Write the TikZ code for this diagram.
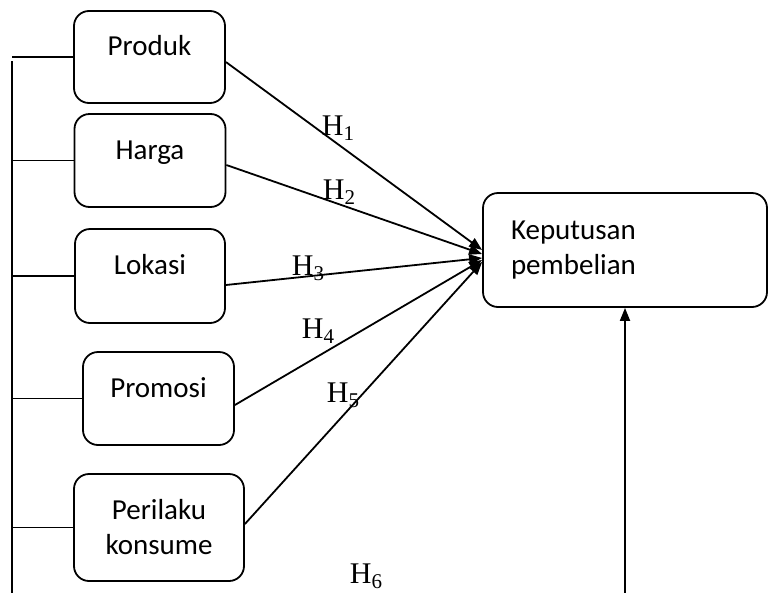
\documentclass[tikz,border=0pt]{standalone}
\usepackage{fontspec}
\setmainfont{Carlito}
\newfontfamily\hfont{Liberation Serif}
\usetikzlibrary{calc,arrows.meta}

\begin{document}
\begin{tikzpicture}[x=1pt,y=-1pt,line width=1.8pt,
  kotak/.style={draw,rounded corners=15pt,inner sep=0pt,
    font=\fontsize{29}{35}\selectfont,align=center},
  satu/.style={kotak,text height=20pt,text depth=23pt},
  hipo/.style={anchor=base west,inner sep=0pt,font=\hfont\fontsize{30}{30}\selectfont},
  panah/.style={-{Triangle[length=13pt,width=10pt]}}]
\useasboundingbox (0,0) rectangle (768,592);

\node [satu,minimum width=151pt,minimum height=92pt] (produk) at (149.5,57) {Produk};
\node [satu,minimum width=151pt,minimum height=93pt] (harga) at (150,160.5) {Harga};
\node [satu,minimum width=150pt,minimum height=94pt] (lokasi) at (150,276) {Lokasi};
\node [satu,minimum width=151pt,minimum height=93pt] (promosi) at (158.5,398.5) {Promosi};
\node [kotak,minimum width=170pt,minimum height=107pt] (perilaku) at (159,527.5) {Perilaku\\konsume};
\node [kotak,minimum width=284pt,minimum height=114pt,text width=228pt,align=left]
  (keputusan) at (625,250) {Keputusan\\pembelian};

% garis kiri menuju kotak-kotak variabel
\coordinate (atas) at (12,61);
\coordinate (sudut) at (12,594);
\coordinate (bawah) at (625,594);
\draw [panah] (atas) -- (sudut) -- (bawah) -- (keputusan.south);
\foreach \v in {produk,harga,lokasi,promosi,perilaku}
  \draw (\v.west) -- (\v.west -| atas);

% panah hipotesis
\draw [panah] ($(produk.east)+(0,5)$) -- (keputusan.west);
\draw [panah] ($(harga.east)+(0,4.5)$) -- ($(keputusan.west)+(0,4)$);
\draw [panah] ($(lokasi.east)+(0,9)$) -- ($(keputusan.west)+(0,8)$);
\draw [panah] ($(promosi.east)+(0,6.5)$) -- ($(keputusan.west)+(0,10)$);
\draw [panah] ($(perilaku.east)+(0,-3.5)$) -- ($(keputusan.west)+(0,12)$);

\node [hipo] (h1) at (321,135) {H\textsubscript{1}};
\node [hipo] (h2) at (322,199) {H\textsubscript{2}};
\node [hipo] (h3) at (291,275) {H\textsubscript{3}};
\node [hipo] (h4) at (301,338) {H\textsubscript{4}};
\node [hipo] (h5) at (326,402) {H\textsubscript{5}};
\node [hipo] (h6) at (349,583) {H\textsubscript{6}};
\end{tikzpicture}
\end{document}
